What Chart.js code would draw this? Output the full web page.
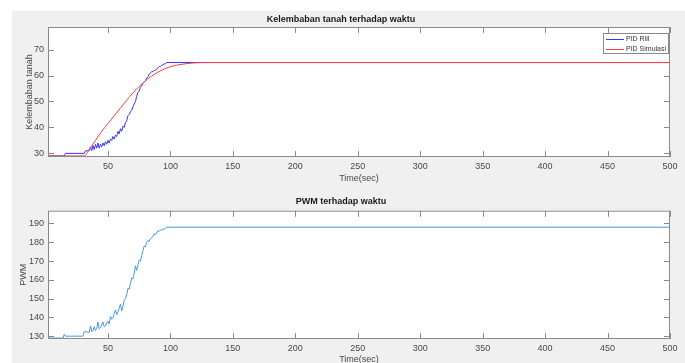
<!DOCTYPE html>
<html lang="id">
<head>
<meta charset="utf-8">
<title>Kelembaban tanah dan PWM terhadap waktu</title>
<script src="https://cdn.jsdelivr.net/npm/chart.js@4.4.1/dist/chart.umd.min.js"></script>
<style>
    html, body { margin: 0; padding: 0; background: #ffffff; overflow: hidden; }
    #figure { position: relative; width: 685px; height: 363px; overflow: hidden; }
    #latar { position: absolute; left: 12px; top: 11px; right: 0; bottom: 0; background: #f0f0f0; }
    #grafikKelembaban { position: absolute; left: 0; top: 0; }
    #grafikPwm { position: absolute; left: 0; top: 180px; }
</style>
</head>
<body>
<div id="figure">
    <div id="latar"></div>
    <canvas id="grafikKelembaban" width="685" height="190"></canvas>
    <canvas id="grafikPwm" width="685" height="190"></canvas>
</div>
<script>
// Data kelembaban tanah - PID riil (hasil sensor)
const waktuRill = [2, 15, 16, 31, 32, 35, 36, 37, 38, 39, 40, 41, 42, 43, 44, 45, 46, 47, 48, 49,
    50, 51, 52, 53, 54, 55, 56, 57, 58, 59, 60, 61, 62, 63, 64, 65, 66, 67, 68, 69,
    70, 71, 72, 73, 74, 75, 76, 77, 78, 79, 80, 81, 82, 83, 84, 85, 86, 87, 88, 89,
    90, 91, 92, 93, 94, 95, 96, 97, 500];
const nilaiRill = [29, 29, 30, 30, 31, 31, 32.5, 31, 33, 31.5, 33.5, 32, 34, 32, 33.5, 32.5, 34, 33, 34.5, 33.5,
    35, 34, 35.5, 35, 36.5, 35.5, 37, 36.5, 38.5, 37.5, 39.5, 38.5, 40.5, 40, 42, 42.5, 44.5, 45, 46, 46.5,
    48, 49, 50, 52, 53.5, 54, 55.5, 56, 57, 57.5, 58, 59, 59.5, 60.5, 61, 61.5, 61.5, 62, 62, 62.5,
    63, 63.5, 63.5, 64, 64, 64.5, 64.5, 65, 65];

// Data kelembaban tanah - PID simulasi
const waktuSimulasi = [2, 31, 35, 40, 45, 50, 55, 60, 65, 70, 75, 80, 85, 90, 95, 100, 105, 110, 115, 120, 125, 130, 500];
const nilaiSimulasi = [29, 29, 31.5, 35, 38.5, 41.5, 44.5, 47.5, 50.5, 53.3, 55.8, 58, 59.8, 61.3, 62.5, 63.4, 64, 64.4, 64.7, 64.9, 65, 65, 65];

// Data PWM
const waktuPwm = [2, 14, 15, 16, 30, 31, 35, 36, 37, 38, 39, 40, 41, 42, 43, 44, 45, 46, 47, 48, 49,
    50, 51, 52, 53, 54, 55, 56, 57, 58, 59, 60, 61, 62, 63, 64, 65, 66, 67, 68, 69,
    70, 71, 72, 73, 74, 75, 76, 77, 78, 79, 80, 81, 82, 83, 84, 85, 86, 87, 88, 89,
    90, 91, 92, 93, 94, 95, 96, 97, 500];
const nilaiPwm = [129, 129, 131, 130, 130, 132.5, 132, 135.5, 132.5, 133, 135, 133, 134, 137.5, 134, 134.5, 136, 137.5, 135, 135.5, 137,
    138, 136.5, 140.5, 139, 140, 142, 144, 141.5, 143, 145, 147, 143.5, 146, 149, 150, 152, 155.5, 155, 158, 161,
    160.5, 163.5, 167.5, 165, 168, 170.5, 170, 173, 175.5, 178, 177.5, 180, 181, 180.5, 182, 182.5, 183, 184.5, 184, 185,
    186, 186, 186.5, 186.5, 187, 187, 187.5, 188, 188];

// Label sumbu
const tickWaktu = [50, 100, 150, 200, 250, 300, 350, 400, 450, 500];
const tickKelembaban = [30, 40, 50, 60, 70];
const tickPwm = [130, 140, 150, 160, 170, 180, 190];

const GAYA = {
    font: '"Liberation Sans", Arial, sans-serif',
    teks: '#4a4a4a',
    judul: '#1a1a1a',
    bingkai: '#8a8a8a',
    biru: '#3535ff',
    merah: '#ff3b3b',
    pwm: '#4a98dc'
};

const legendaKelembaban = [
    { label: 'PID Rill', warna: GAYA.biru },
    { label: 'PID Simulasi', warna: GAYA.merah }
];

function keTitik(xs, ys) {
    return xs.map((x, i) => ({ x: x, y: ys[i] }));
}

// Area plot putih, bingkai kotak dan tick ke dalam seperti plot MATLAB
const bingkaiPlugin = {
    id: 'bingkai',
    beforeDatasetsDraw(chart) {
        const a = chart.chartArea;
        const ctx = chart.ctx;
        ctx.save();
        ctx.fillStyle = '#ffffff';
        ctx.fillRect(a.left, a.top, a.right - a.left, a.bottom - a.top);
        ctx.restore();
    },
    afterDatasetsDraw(chart) {
        const a = chart.chartArea;
        const ctx = chart.ctx;
        const panjang = 6;
        ctx.save();
        ctx.strokeStyle = GAYA.bingkai;
        ctx.lineWidth = 1;
        ctx.strokeRect(a.left + 0.5, a.top + 0.5, a.right - a.left - 1, a.bottom - a.top - 1);
        ctx.beginPath();
        chart.scales.x.ticks.forEach(t => {
            const px = Math.round(chart.scales.x.getPixelForValue(t.value)) + 0.5;
            ctx.moveTo(px, a.bottom);
            ctx.lineTo(px, a.bottom - panjang);
            ctx.moveTo(px, a.top);
            ctx.lineTo(px, a.top + panjang);
        });
        chart.scales.y.ticks.forEach(t => {
            const py = Math.round(chart.scales.y.getPixelForValue(t.value)) + 0.5;
            ctx.moveTo(a.left, py);
            ctx.lineTo(a.left + panjang, py);
            ctx.moveTo(a.right, py);
            ctx.lineTo(a.right - panjang, py);
        });
        ctx.stroke();
        ctx.restore();
    }
};

// Legenda kecil di pojok kanan atas area plot
function buatLegenda(items) {
    return {
        id: 'legendaPojok',
        afterDraw(chart) {
            const a = chart.chartArea;
            const ctx = chart.ctx;
            const lebar = 66, tinggi = 21;
            const kiri = Math.round(a.right - lebar - 1), atas = Math.round(a.top + 6);
            ctx.save();
            ctx.fillStyle = '#ffffff';
            ctx.fillRect(kiri, atas, lebar, tinggi);
            ctx.lineWidth = 1;
            ctx.strokeStyle = GAYA.bingkai;
            ctx.strokeRect(kiri + 0.5, atas + 0.5, lebar - 1, tinggi - 1);
            ctx.font = '7px ' + GAYA.font;
            ctx.textBaseline = 'middle';
            items.forEach((item, i) => {
                const y = atas + 6 + i * 10;
                // contoh garis seri
                ctx.fillStyle = item.warna;
                ctx.fillRect(kiri + 3, y, 18, 1);
                ctx.fillStyle = '#333333';
                ctx.fillText(item.label, kiri + 23, y + 0.5);
            });
            ctx.restore();
        }
    };
}

function buatOpsi(cfg) {
    const hurufTick = { family: GAYA.font, size: 9 };
    return {
        responsive: false,
        animation: false,
        layout: { padding: { top: cfg.padAtas, left: 12, right: 15, bottom: 0 } },
        plugins: {
            legend: { display: false },
            tooltip: { enabled: false },
            title: {
                display: true,
                text: cfg.judul,
                color: GAYA.judul,
                font: { family: GAYA.font, size: 9, weight: 'bold' },
                padding: { top: 6.6, bottom: cfg.padJudulBawah }
            }
        },
        scales: {
            x: {
                type: 'linear',
                min: 2,
                max: 500,
                afterBuildTicks: s => { s.ticks = tickWaktu.map(v => ({ value: v })); },
                afterFit: s => { s.height = cfg.tinggiX; },
                grid: { display: false, drawTicks: false },
                border: { display: false },
                ticks: { color: GAYA.teks, font: hurufTick, padding: 4.5, maxRotation: 0, autoSkip: false },
                title: {
                    display: true,
                    text: 'Time(sec)',
                    color: GAYA.teks,
                    font: hurufTick,
                    padding: { top: 0, bottom: cfg.padTime }
                }
            },
            y: {
                type: 'linear',
                min: cfg.yMin,
                max: cfg.yMax,
                afterBuildTicks: s => { s.ticks = cfg.tickY.map(v => ({ value: v })); },
                afterFit: s => { s.width = 36; },
                grid: { display: false, drawTicks: false },
                border: { display: false },
                ticks: { color: GAYA.teks, font: hurufTick, padding: 4 },
                title: {
                    display: true,
                    text: cfg.labelY,
                    color: GAYA.teks,
                    font: hurufTick,
                    padding: { top: cfg.padLabelY, bottom: 0 }
                }
            }
        },
        elements: { point: { radius: 0 }, line: { borderWidth: 1 } }
    };
}

function buatGrafikKelembaban() {
    const canvas = document.getElementById('grafikKelembaban');
    new Chart(canvas.getContext('2d'), {
        type: 'line',
        data: {
            datasets: [{
                label: 'PID Rill',
                data: keTitik(waktuRill, nilaiRill),
                borderColor: GAYA.biru,
                tension: 0,
                order: 1
            }, {
                label: 'PID Simulasi',
                data: keTitik(waktuSimulasi, nilaiSimulasi),
                borderColor: GAYA.merah,
                cubicInterpolationMode: 'monotone',
                order: 0
            }]
        },
        options: buatOpsi({
            judul: 'Kelembaban tanah terhadap waktu',
            padAtas: 8,
            padJudulBawah: 1.6,
            tinggiX: 33,
            padTime: 5.6,
            yMin: 28.6,
            yMax: 78.7,
            tickY: tickKelembaban,
            labelY: 'Kelembaban tanah',
            padLabelY: 12.6
        }),
        plugins: [bingkaiPlugin, buatLegenda(legendaKelembaban)]
    });
}

function buatGrafikPwm() {
    const canvas = document.getElementById('grafikPwm');
    new Chart(canvas.getContext('2d'), {
        type: 'line',
        data: {
            datasets: [{
                label: 'PWM',
                data: keTitik(waktuPwm, nilaiPwm),
                borderColor: GAYA.pwm,
                tension: 0
            }]
        },
        options: buatOpsi({
            judul: 'PWM terhadap waktu',
            padAtas: 10,
            padJudulBawah: 3.3,
            tinggiX: 31,
            padTime: 4.6,
            yMin: 128.5,
            yMax: 196.8,
            tickY: tickPwm,
            labelY: 'PWM',
            padLabelY: 6.6
        }),
        plugins: [bingkaiPlugin]
    });
}

buatGrafikKelembaban();
buatGrafikPwm();
</script>
</body>
</html>
